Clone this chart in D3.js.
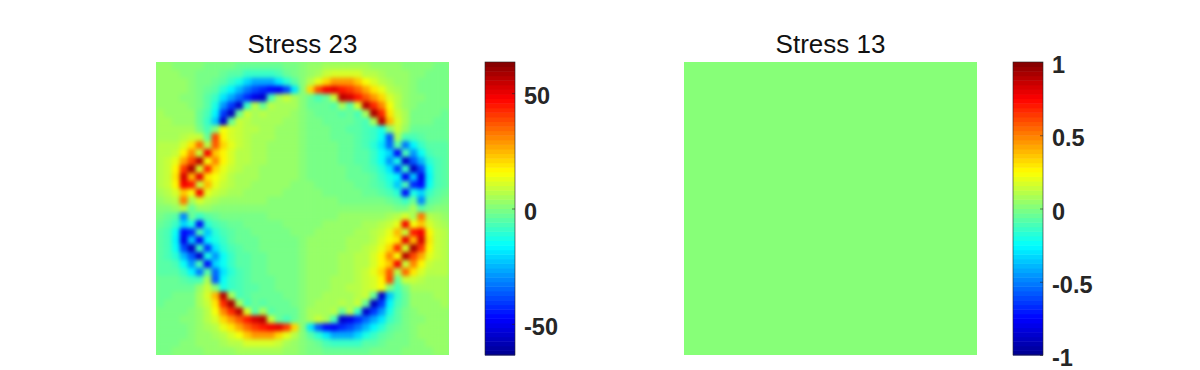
<!DOCTYPE html>
<html>
<head>
<meta charset="utf-8">
<script src="https://cdn.jsdelivr.net/npm/d3@7"></script>
<style>
html, body { margin: 0; padding: 0; background: #fff; }
text { font-family: "Liberation Sans", Arial, sans-serif; fill: #262626; }
</style>
</head>
<body>
<div id="chart"></div>
<script>
var titles = ["Stress 23", "Stress 13"];
var ticks23 = [-50, 0, 50];
var ticks13 = [-1, -0.5, 0, 0.5, 1];
var limit23 = 63.5;
var limit13 = 1;

// one row per 8px or so, top row first
var stress23 = [
[1,1,0,0,0,0,-1,-1,-2,-2,-3,-4,-4,-4,-4,-4,-2,-1,0,1,2,3,4,4,4,4,3,2,2,1,1,0,0,0,0,-1,-1],
[1,1,1,0,0,-1,-1,-2,-3,-5,-6,-9,-10,-10,-10,-7,-4,-2,0,2,4,7,10,10,10,9,6,5,3,2,1,1,0,0,-1,-1,-1],
[1,1,1,1,0,-1,-2,-3,-6,-10,-14,-22,-28,-28,-28,-20,-12,-5,0,5,12,20,28,28,28,22,14,10,6,3,2,1,0,-1,-1,-1,-1],
[2,1,1,1,0,-1,-3,-6,-12,-18,-26,-34,-40,-44,-48,-50,-40,-20,0,20,38,48,50,44,40,34,26,18,12,6,3,1,0,-1,-1,-1,-2],
[2,1,1,0,0,-2,-5,-10,-20,-28,-36,-44,-52,-56,-8,3,7,4,0,-4,-7,-3,8,56,52,44,36,28,20,10,5,2,0,0,-1,-1,-2],
[2,2,1,1,0,-2,-6,-13,-30,-42,-56,-10,6,-3,6,3,4,3,0,-3,-4,-3,-6,3,-6,10,56,42,30,13,6,2,0,-1,-1,-2,-2],
[3,2,2,1,1,-3,-8,-18,-42,-58,-3,7,3,5,3,3,3,2,0,-2,-3,-3,-3,-5,-3,-7,3,58,42,18,8,3,-1,-1,-2,-2,-3],
[3,3,2,2,2,-3,-9,-24,-56,-3,7,5,4,3,3,3,2,1,0,-1,-2,-3,-3,-3,-4,-5,-7,3,56,24,9,3,-2,-2,-2,-3,-3],
[4,3,3,3,3,-2,-8,0,14,9,7,6,5,3,3,2,2,1,0,-1,-2,-2,-3,-3,-5,-6,-7,-9,-14,0,8,2,-3,-3,-3,-3,-4],
[4,4,4,5,8,8,-4,38,16,10,7,6,4,3,3,2,2,1,0,-1,-2,-2,-3,-3,-4,-6,-7,-10,-16,-38,4,-8,-8,-5,-4,-4,-4],
[5,5,6,9,18,34,6,36,20,11,7,5,4,3,2,2,1,1,0,-1,-1,-2,-2,-3,-4,-5,-7,-11,-20,-36,-6,-34,-18,-9,-6,-5,-5],
[5,6,8,16,30,8,48,22,15,9,6,5,4,3,2,2,1,1,0,-1,-1,-2,-2,-3,-4,-5,-6,-9,-15,-22,-48,-8,-30,-16,-8,-6,-5],
[5,7,12,26,38,56,14,30,15,9,6,5,3,3,2,2,1,1,0,-1,-1,-2,-2,-3,-3,-5,-6,-9,-15,-30,-14,-56,-38,-26,-12,-7,-5],
[5,8,15,40,58,10,42,20,12,8,5,4,3,2,2,2,1,1,0,-1,-1,-2,-2,-2,-3,-4,-5,-8,-12,-20,-42,-10,-58,-40,-15,-8,-5],
[5,8,17,52,24,50,18,14,9,6,4,4,3,2,2,1,1,1,0,-1,-1,-1,-2,-2,-3,-4,-4,-6,-9,-14,-18,-50,-24,-52,-17,-8,-5],
[5,7,15,48,44,8,24,11,7,5,4,3,2,2,1,1,1,0,0,0,-1,-1,-1,-2,-2,-3,-4,-5,-7,-11,-24,-8,-44,-48,-15,-7,-5],
[4,5,9,22,14,48,12,8,5,4,3,2,2,1,1,1,0,0,0,0,0,-1,-1,-1,-2,-2,-3,-4,-5,-8,-12,-48,-14,-22,-9,-5,-4],
[2,3,5,32,3,10,5,3,2,2,1,1,1,1,0,0,0,0,0,0,0,0,0,-1,-1,-1,-1,-2,-2,-3,-5,-10,-3,-32,-5,-3,-2],
[0,0,1,6,-3,2,1,0,0,0,0,0,0,0,0,0,0,0,0,0,0,0,0,0,0,0,0,0,0,0,-1,-2,3,-6,-1,0,0],
[-2,-3,-5,-32,-3,-10,-5,-3,-2,-2,-1,-1,-1,-1,0,0,0,0,0,0,0,0,0,1,1,1,1,2,2,3,5,10,3,32,5,3,2],
[-4,-5,-9,-22,-14,-48,-12,-8,-5,-4,-3,-2,-2,-1,-1,-1,0,0,0,0,0,1,1,1,2,2,3,4,5,8,12,48,14,22,9,5,4],
[-5,-7,-15,-48,-44,-8,-24,-11,-7,-5,-4,-3,-2,-2,-1,-1,-1,0,0,0,1,1,1,2,2,3,4,5,7,11,24,8,44,48,15,7,5],
[-5,-8,-17,-52,-24,-50,-18,-14,-9,-6,-4,-4,-3,-2,-2,-1,-1,-1,0,1,1,1,2,2,3,4,4,6,9,14,18,50,24,52,17,8,5],
[-5,-8,-15,-40,-58,-10,-42,-20,-12,-8,-5,-4,-3,-2,-2,-2,-1,-1,0,1,1,2,2,2,3,4,5,8,12,20,42,10,58,40,15,8,5],
[-5,-7,-12,-26,-38,-56,-14,-30,-15,-9,-6,-5,-3,-3,-2,-2,-1,-1,0,1,1,2,2,3,3,5,6,9,15,30,14,56,38,26,12,7,5],
[-5,-6,-8,-16,-30,-8,-48,-22,-15,-9,-6,-5,-4,-3,-2,-2,-1,-1,0,1,1,2,2,3,4,5,6,9,15,22,48,8,30,16,8,6,5],
[-5,-5,-6,-9,-18,-34,-6,-36,-20,-11,-7,-5,-4,-3,-2,-2,-1,-1,0,1,1,2,2,3,4,5,7,11,20,36,6,34,18,9,6,5,5],
[-4,-4,-4,-5,-8,-8,4,-38,-16,-10,-7,-6,-4,-3,-3,-2,-2,-1,0,1,2,2,3,3,4,6,7,10,16,38,-4,8,8,5,4,4,4],
[-4,-3,-3,-3,-3,2,8,0,-14,-9,-7,-6,-5,-3,-3,-2,-2,-1,0,1,2,2,3,3,5,6,7,9,14,0,-8,-2,3,3,3,3,4],
[-3,-3,-2,-2,-2,3,9,24,56,3,-7,-5,-4,-3,-3,-3,-2,-1,0,1,2,3,3,3,4,5,7,-3,-56,-24,-9,-3,2,2,2,3,3],
[-3,-2,-2,-1,-1,3,8,18,42,58,3,-7,-3,-5,-3,-3,-3,-2,0,2,3,3,3,5,3,7,-3,-58,-42,-18,-8,-3,1,1,2,2,3],
[-2,-2,-1,-1,0,2,6,13,30,42,56,10,-6,3,-6,-3,-4,-3,0,3,4,3,6,-3,6,-10,-56,-42,-30,-13,-6,-2,0,1,1,2,2],
[-2,-1,-1,0,0,2,5,10,20,28,36,44,52,56,8,-3,-7,-4,0,4,7,3,-8,-56,-52,-44,-36,-28,-20,-10,-5,-2,0,0,1,1,2],
[-2,-1,-1,-1,0,1,3,6,12,18,26,34,40,44,48,50,40,20,0,-20,-38,-48,-50,-44,-40,-34,-26,-18,-12,-6,-3,-1,0,1,1,1,2],
[-1,-1,-1,-1,0,1,2,3,6,10,14,22,28,28,28,20,12,5,0,-5,-12,-20,-28,-28,-28,-22,-14,-10,-6,-3,-2,-1,0,1,1,1,1],
[-1,-1,-1,0,0,1,1,2,3,5,6,9,10,10,10,7,4,2,0,-2,-4,-7,-10,-10,-10,-9,-6,-5,-3,-2,-1,-1,0,0,1,1,1],
[-1,-1,0,0,0,0,1,1,2,2,3,4,4,4,4,4,2,1,0,-1,-2,-3,-4,-4,-4,-4,-3,-2,-2,-1,-1,0,0,0,0,1,1]
];
var stress13 = [[0]];

var jetStops = [0, 0.125, 0.375, 0.625, 0.875, 1];
var jetColors = ["#00008f", "#0000ff", "#00ffff", "#ffff00", "#ff0000", "#800000"];

var w = 1200;
var h = 370;
var top_y = 62;
var plotSize = 293;

var jet = d3.scaleLinear().domain(jetStops).range(jetColors).clamp(true);

function levelColor(level) {
    return jet((level + 0.5) / 64); //matlab style 64 step map
}

function panel(svg, id, x0, barX, title, grid, limit, tickVals) {
    // half a step shift so zero and its near neighbours share one level
    var step = limit / 32;
    var color = d3.scaleQuantize()
                    .domain([-limit - step / 2, limit - step / 2])
                    .range(d3.range(64));

    var xScale = d3.scaleBand()
                    .domain(d3.range(grid[0].length))
                    .range([x0, x0 + plotSize]);
    var yScale = d3.scaleBand()
                    .domain(d3.range(grid.length))
                    .range([top_y, top_y + plotSize]);

    var cells = [];
    grid.forEach(function(row, j) {
        row.forEach(function(v, i) {
            cells.push({i: i, j: j, v: v});
        });
    });

    svg.append("clipPath").attr("id", "clip" + id)
        .append("rect")
        .attr("x", x0).attr("y", top_y)
        .attr("width", plotSize).attr("height", plotSize);

    var plot = svg.append("g").attr("clip-path", "url(#clip" + id + ")");

    plot.append("rect") //so the blur does not fade out at the edges
        .attr("x", x0).attr("y", top_y)
        .attr("width", plotSize).attr("height", plotSize)
        .style("fill", levelColor(color(0)));

    plot.append("g")
        .attr("filter", "url(#soft)")
        .selectAll("rect")
        .data(cells)
        .enter()
        .append("rect")
        .attr("x", function(d) { return xScale(d.i); })
        .attr("y", function(d) { return yScale(d.j); })
        .attr("width", xScale.bandwidth() + 0.5)
        .attr("height", yScale.bandwidth() + 0.5)
        .style("fill", function(d) { return levelColor(color(d.v)); });

    svg.append("text")
        .attr("x", x0 + plotSize / 2)
        .attr("y", 53)
        .attr("text-anchor", "middle")
        .style("font-size", "26px")
        .style("fill", "#111")
        .text(title);

    // colour bar
    var barW = 30;
    var levels = d3.range(64);
    var barScale = d3.scaleBand().domain(levels).range([top_y + plotSize, top_y]);

    svg.append("g").selectAll("rect")
        .data(levels)
        .enter()
        .append("rect")
        .attr("x", barX)
        .attr("y", function(d) { return barScale(d); })
        .attr("width", barW)
        .attr("height", barScale.bandwidth() + 0.5)
        .style("fill", function(d) { return levelColor(d); });

    var valueScale = d3.scaleLinear().domain([-limit, limit]).range([top_y + plotSize, top_y]);
    var axis = d3.axisRight(valueScale)
                    .tickValues(tickVals)
                    .tickSize(-3)
                    .tickPadding(9)
                    .tickFormat(function(d) { return String(d); });

    var g = svg.append("g")
        .attr("transform", "translate(" + (barX + barW) + ",0)")
        .call(axis);
    g.select(".domain").remove();
    g.selectAll("line").style("stroke", "#262626").style("stroke-width", 0.6);
    g.selectAll("text")
        .style("font-family", '"Liberation Sans", Arial, sans-serif')
        .style("font-size", "23.5px")
        .style("font-weight", "bold")
        .style("fill", "#262626")
        .attr("dy", "0.45em");

    svg.append("rect")
        .attr("x", barX).attr("y", top_y)
        .attr("width", barW).attr("height", plotSize)
        .style("fill", "none")
        .style("stroke", "#262626")
        .style("stroke-width", 0.6);
}

var svg = d3.select("#chart")
            .append("svg")
            .attr("width", w)
            .attr("height", h)
            .style("display", "block");

var blur = svg.append("defs").append("filter")
    .attr("id", "soft")
    .attr("filterUnits", "userSpaceOnUse")
    .attr("x", 0).attr("y", 0).attr("width", w).attr("height", h)
    .attr("color-interpolation-filters", "sRGB");
blur.append("feGaussianBlur").attr("stdDeviation", 2);

panel(svg, "a", 156, 485, titles[0], stress23, limit23, ticks23);
panel(svg, "b", 684, 1013, titles[1], stress13, limit13, ticks13);
</script>
</body>
</html>
